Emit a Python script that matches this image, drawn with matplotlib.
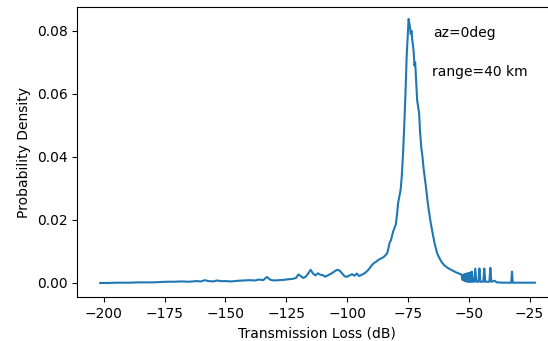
import numpy as np
import matplotlib
matplotlib.use("Agg")
from matplotlib import pyplot as plt

# transmission loss bins (dB) and estimated probability density
tl = [-201.5, -198, -195, -192, -189, -186, -183, -180, -177, -174, -171, -168,
      -165, -162, -160, -158.5, -157, -155, -153.5, -152, -150, -147.5, -145,
      -142.5, -140, -138, -136, -134.5, -133, -131.5, -130, -128, -126, -124,
      -122.5, -121, -120, -119, -118, -117, -116, -115, -114, -113, -112, -111,
      -110, -109, -108, -107, -106, -105, -104, -103, -102, -101, -100, -99,
      -98, -97, -96, -95, -94, -93, -92, -91, -90, -89, -88, -87, -86, -85,
      -84, -83.5, -83, -82.5, -82, -81.5, -81, -80.5, -80, -79.5, -79, -78.5,
      -78, -77.5, -77, -76.5, -76, -75.5, -75, -74.7, -74.4, -74.1, -73.8,
      -73.5, -73.2, -72.9, -72.6, -72.3, -72, -71.6, -71.2, -70.8, -70.4, -70,
      -69.5, -69, -68.5, -68, -67.5, -67, -66.5, -66, -65.5, -65, -64, -63,
      -62, -61, -60, -59, -58, -57, -56, -55, -54, -53,
      -52.5, -52.25, -52, -51.75, -51.5, -51.25, -51, -50.75, -50.5, -50.25,
      -50, -49.75, -49.5, -49.25, -49, -48.75, -48.5, -48.2, -47.8,
      -47.3, -46.9, -46.0, -45.6, -45.2, -44.0, -43.6, -43.2, -41.5, -41.1,
      -40.7, -39.3, -38.5, -36, -33, -32.5, -32.2, -31.9, -28, -25, -22.8]

pdf = [0.0, 0.0, 0.0001, 0.0001, 0.0001, 0.0002, 0.0002, 0.0002, 0.0003,
       0.0004, 0.0004, 0.0005, 0.0004, 0.0006, 0.0005, 0.0009, 0.0006, 0.0005,
       0.0008, 0.0006, 0.0006, 0.0005, 0.0007, 0.0008, 0.0009, 0.0008, 0.0011,
       0.0009, 0.0019, 0.0010, 0.0008, 0.0009, 0.0010, 0.0012, 0.0013, 0.0016,
       0.0027, 0.0022, 0.0016, 0.0020, 0.0030, 0.0042, 0.0030, 0.0024, 0.0031,
       0.0026, 0.0025, 0.0020, 0.0024, 0.0028, 0.0032, 0.0038, 0.0042, 0.0039,
       0.0030, 0.0021, 0.0020, 0.0024, 0.0028, 0.0023, 0.0030, 0.0022, 0.0026,
       0.0030, 0.0036, 0.0044, 0.0055, 0.0063, 0.0068, 0.0074, 0.0078, 0.0082,
       0.0090, 0.0095, 0.0110, 0.0128, 0.0135, 0.0150, 0.0165, 0.0175, 0.0185,
       0.0215, 0.0255, 0.0275, 0.0295, 0.0340, 0.0410, 0.0500, 0.0600, 0.0720,
       0.0790, 0.0838, 0.0825, 0.0810, 0.0790, 0.0800, 0.0770, 0.0755, 0.0730,
       0.0690, 0.0700, 0.0640, 0.0580, 0.0560, 0.0540, 0.0480, 0.0430, 0.0400,
       0.0360, 0.0330, 0.0300, 0.0265, 0.0235, 0.0210, 0.0185, 0.0165, 0.0125,
       0.0095, 0.0078, 0.0065, 0.0056, 0.0050, 0.0045, 0.0041, 0.0037, 0.0033,
       0.0030, 0.0027,
       0.0010, 0.0026, 0.0008, 0.0028, 0.0006, 0.0029, 0.0005, 0.0030, 0.0004,
       0.0031, 0.0004, 0.0032, 0.0004, 0.0033, 0.0004, 0.0036, 0.0004, 0.0004,
       0.0004, 0.0046, 0.0004, 0.0004, 0.0046, 0.0004, 0.0004, 0.0046, 0.0004,
       0.0004, 0.0048, 0.0004, 0.0007, 0.0002, 0.0001, 0.0001, 0.0001, 0.0036,
       0.0001, 0.0001, 0.0001, 0.0001]

fig = plt.figure(figsize=(5.48, 3.41), dpi=100)
ax = fig.add_axes([0.1411, 0.1276, 0.874, 0.851])
ax.plot(tl, pdf)
ax.set_xlim(-210.9, -14)
ax.set_ylim(-0.0046, 0.0875)
ax.set_xticks([-200, -175, -150, -125, -100, -75, -50, -25])
ax.set_yticks([0.0, 0.02, 0.04, 0.06, 0.08])
ax.set_xlabel("Transmission Loss (dB)")
ax.set_ylabel("Probability Density")
ax.text(-64.7, 0.0794, "az=0deg", va="center")
ax.text(-65.0, 0.0670, "range=40 km", va="center")

fig.savefig("out.png", dpi=100)
